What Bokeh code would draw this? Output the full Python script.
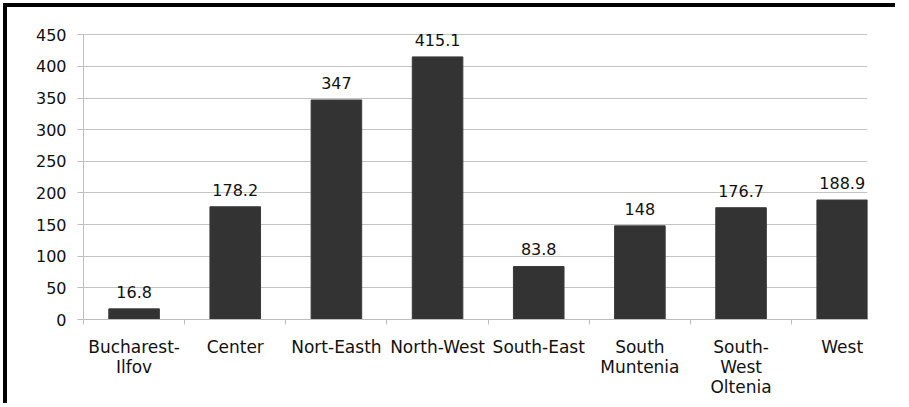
from bokeh.plotting import figure
from bokeh.models import ColumnDataSource, Range1d, FixedTicker, LabelSet
from bokeh.core.properties import value
from bokeh.embed import file_html
from bokeh.resources import INLINE

categories = ["Bucharest-\nIlfov", "Center", "Nort-Easth", "North-West", "South-East",
              "South\nMuntenia", "South-\nWest\nOltenia", "West"]
values = [16.8, 178.2, 347, 415.1, 83.8, 148, 176.7, 188.9]
value_labels = ["16.8", "178.2", "347", "415.1", "83.8", "148", "176.7", "188.9"]
y_ticks = [0, 50, 100, 150, 200, 250, 300, 350, 400, 450]

xs = list(range(len(categories)))
src = ColumnDataSource(dict(x=xs, top=values, lab=value_labels))

FONT = "DejaVu Sans"

p = figure(width=892, height=400, output_backend="svg", toolbar_location=None,
           x_range=Range1d(-0.5, len(categories) - 0.75), y_range=Range1d(0, 460),
           min_border_left=76, min_border_right=32, min_border_top=21, min_border_bottom=88)
p.outline_line_color = None
p.background_fill_color = "white"
p.border_fill_color = "white"
p.styles = {"margin-left": "3px", "margin-top": "3px",
            "border-left": "4px solid black", "border-top": "4px solid black"}

p.vbar(x="x", top="top", width=0.5, source=src, fill_color="#333333", line_color="#3a3a3a")

labels = LabelSet(x="x", y="top", text="lab", source=src, text_align="center",
                  text_baseline="alphabetic", y_offset=11, text_font=value(FONT),
                  text_font_size=value("16px"), text_color="#111111")
p.add_layout(labels)

# x axis
p.xaxis.ticker = FixedTicker(ticks=xs, minor_ticks=[i - 0.5 for i in xs])
p.xaxis.major_label_overrides = {i: c for i, c in enumerate(categories)}
p.xaxis.major_tick_out = 0
p.xaxis.major_tick_in = 0
p.xaxis.minor_tick_out = 5
p.xaxis.minor_tick_in = 0
p.xaxis.minor_tick_line_color = "#bdbdbd"
p.xaxis.axis_line_color = "#bdbdbd"
p.xaxis.major_label_text_font = FONT
p.xaxis.major_label_text_font_size = "17px"
p.xaxis.major_label_text_color = "#111111"
p.xaxis.major_label_text_baseline = "top"
p.xaxis.major_label_text_align = "center"
p.xaxis.major_label_text_line_height = 1.0
p.xaxis.major_label_standoff = 12

# y axis
p.yaxis.ticker = FixedTicker(ticks=y_ticks)
p.yaxis.bounds = (y_ticks[0], y_ticks[-1])
p.yaxis.minor_tick_line_color = None
p.yaxis.major_tick_out = 6
p.yaxis.major_tick_in = 0
p.yaxis.major_tick_line_color = "#bdbdbd"
p.yaxis.axis_line_color = "#bdbdbd"
p.yaxis.major_label_text_font = FONT
p.yaxis.major_label_text_font_size = "16px"
p.yaxis.major_label_text_color = "#111111"
p.yaxis.major_label_standoff = 11

p.xgrid.grid_line_color = None
p.ygrid.grid_line_color = "#c4c4c4"

open("out.html", "w").write(file_html(p, INLINE))
